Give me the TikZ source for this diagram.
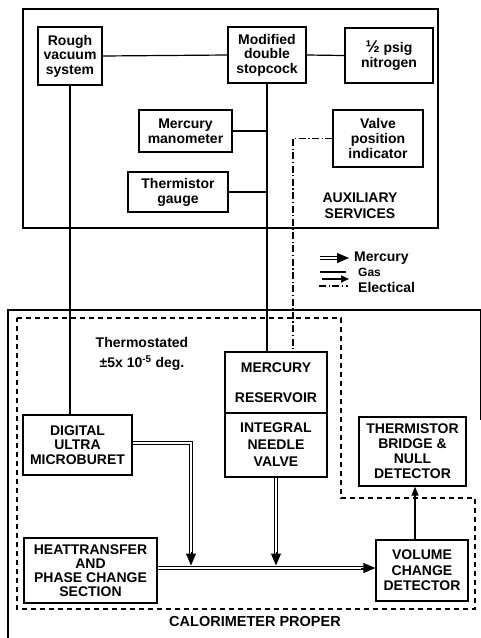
\documentclass[tikz,border=0pt]{standalone}
\usepackage{fontspec}
\setmainfont{Liberation Sans}
\usetikzlibrary{arrows.meta,calc}
\newcommand\lblfont{\fontsize{14}{14.5}\selectfont\bfseries}
\begin{document}
\begin{tikzpicture}[x=1pt,y=-1pt,
  box/.style={draw,line width=1.3pt,inner sep=1pt,align=center,font=\lblfont},
  txt/.style={inner sep=0pt,align=center,font=\lblfont},
  gas/.style={line width=1.2pt},
  hg/.style={double,double distance=1.8pt,line width=1.2pt},
  hgtip/.style={-{Triangle[length=12pt,width=10pt]}},
  elec/.style={line width=1.1pt,dash pattern=on 7pt off 2.5pt on 1.3pt off 2.5pt},
  thermo/.style={line width=1.4pt,dash pattern=on 5pt off 4pt}]
\useasboundingbox (0,0) rectangle (481,638);
% auxiliary services container
\node[draw,line width=1.3pt,minimum width=415pt,minimum height=219pt,inner sep=0pt] (aux) at (230.5,118.5) {};
\node[txt,font=\fontsize{14}{16}\selectfont\bfseries] (auxlbl) at (360,205.5) {AUXILIARY\\SERVICES};
% top boxes
\node[box,minimum width=64pt,minimum height=58pt] (rough) at (70,56) {Rough\\vacuum\\system};
\node[box,minimum width=78pt,minimum height=56pt] (stop) at (267,55) {Modified\\double\\stopcock};
\node[box,minimum width=88pt,minimum height=55pt] (nitro) at (389,55.5) {{\fontsize{17}{17}\selectfont ½} psig\\nitrogen};
\node[box,minimum width=93pt,minimum height=42pt,font=\fontsize{14}{15}\selectfont\bfseries] (mano) at (185.5,131) {Mercury\\manometer};
\node[box,minimum width=100pt,minimum height=40pt,font=\fontsize{14}{15}\selectfont\bfseries] (tgauge) at (178,192) {Thermistor\\gauge};
\node[box,minimum width=90pt,minimum height=57pt,font=\fontsize{14}{15}\selectfont\bfseries] (valve) at (378,138.5) {Valve\\position\\indicator};
% calorimeter boxes
\node[box,minimum width=102pt,minimum height=61pt,font=\fontsize{14}{30}\selectfont\bfseries] (merc) at (276,382.5) {MERCURY\\RESERVOIR};
\node[box,minimum width=102pt,minimum height=64pt,font=\fontsize{14}{17}\selectfont\bfseries] (needle) at (276,445) {INTEGRAL\\NEEDLE\\VALVE};
\node[box,minimum width=109pt,minimum height=60pt] (micro) at (77.5,445) {DIGITAL\\ULTRA\\MICROBURET};
\node[box,minimum width=107pt,minimum height=69pt,font=\fontsize{14}{15}\selectfont\bfseries] (bridge) at (412.5,451.5) {THERMISTOR\\BRIDGE \&\\NULL\\DETECTOR};
\node[box,minimum width=133pt,minimum height=65pt,font=\fontsize{14}{14}\selectfont\bfseries] (heat) at (90.5,570.5) {HEATTRANSFER\\AND\\PHASE CHANGE\\SECTION};
\node[box,minimum width=92pt,minimum height=61pt,font=\fontsize{14}{15.5}\selectfont\bfseries] (vol) at (422,570.5) {VOLUME\\CHANGE\\DETECTOR};
% outer calorimeter outline and thermostated region
\draw[line width=1.3pt] (8,645) -- (8,310) -- (481,310);
\draw[line width=1pt] (480,310) -- (480,420);
\draw[thermo] (17,318) -- (341,318) -- (341,498) -- (475,498) -- (475,609) -- (17,609) -- cycle;
\node[txt] (thlbl) at (142,354) {Thermostated\\[5pt]±5x 10\textsuperscript{-5} deg.};
\node[txt,font=\fontsize{14.5}{16}\selectfont\bfseries] (callbl) at (255,622) {CALORIMETER PROPER};
% gas connectors
\draw[gas] (rough.east) -- (stop.west);
\draw[gas] (stop.east) -- (nitro.west);
\draw[gas] (stop.south) -- (stop.south |- merc.north);
\draw[gas] (mano.east) -- (mano.east -| stop.south);
\draw[gas] (tgauge.east) -- (tgauge.east -| stop.south);
\draw[gas] (rough.south) -- (rough.south |- micro.north);
% electrical connectors
\coordinate (ex) at (293,0);
\draw[elec] (valve.west) -| (merc.north -| ex);
\coordinate (bx) at (415,0);
\draw[line width=1.5pt,-{Triangle[length=9pt,width=7pt]}] (vol.north -| bx) -- (bridge.south -| bx);
% mercury connectors
\coordinate (jx) at (191,0);
\coordinate (main) at (0,568);
\draw[hg] (heat.east |- main) -- ($(vol.west |- main)+(-10,0)$);
\draw[hgtip,line width=1pt] ($(vol.west |- main)+(-14,0)$) -- (vol.west |- main);
\draw[hg] (micro.east |- 0,443) -| ($(jx |- main)+(0,-14)$);
\draw[hgtip,line width=1pt] ($(jx |- main)+(0,-16)$) -- ($(jx |- main)+(0,-2.5)$);
\draw[hg] (needle.south) -- ($(needle.south |- main)+(0,-14)$);
\draw[hgtip,line width=1pt] ($(needle.south |- main)+(0,-16)$) -- ($(needle.south |- main)+(0,-2.5)$);
% legend
\coordinate (lg1) at (320,258);
\coordinate (lg1e) at (349,258);
\draw[hg] (lg1) -- ($(lg1e)+(-8,0)$);
\draw[hgtip,line width=1pt] ($(lg1e)+(-10,0)$) -- (lg1e);
\draw[gas] (320,272) -- (346,272);
\draw[line width=1.8pt,-{Triangle[length=8pt,width=7pt]}] (322,279) -- (349,279);
\draw[elec] (319,286) -- (348,286);
\node[txt,anchor=west,font=\fontsize{14}{14}\selectfont\bfseries] (lmerc) at (354,258) {Mercury};
\node[txt,anchor=west,font=\fontsize{12}{12}\selectfont\bfseries] (lgas) at (358,272) {Gas};
\node[txt,anchor=west,font=\fontsize{14}{14}\selectfont\bfseries] (lelec) at (358,287) {Electical};
\end{tikzpicture}
\end{document}
